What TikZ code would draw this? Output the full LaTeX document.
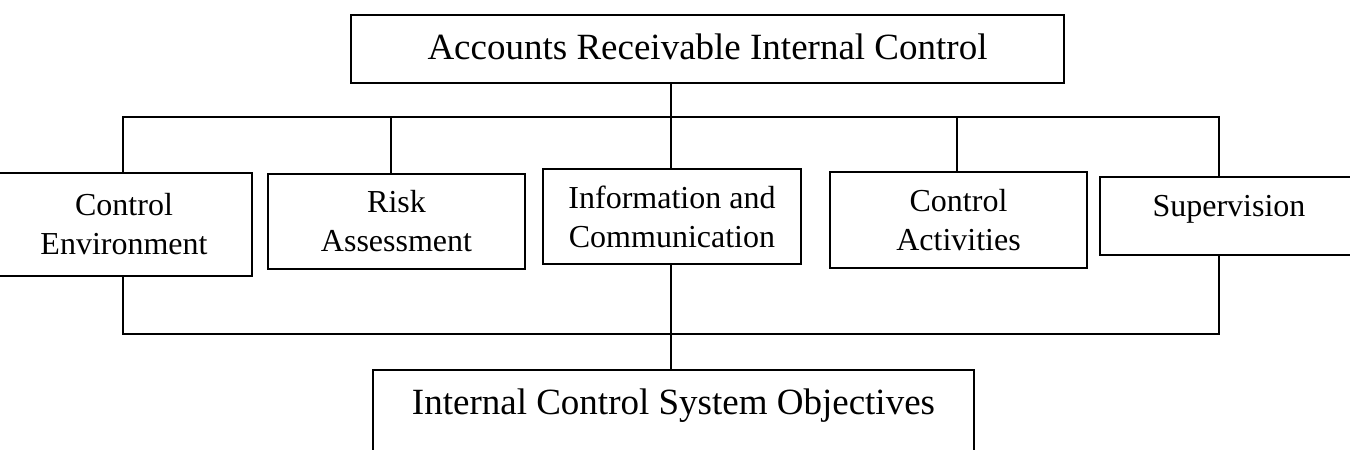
\documentclass[tikz,border=0pt]{standalone}
\usepackage{fontspec}
\setmainfont{Liberation Serif}
\begin{document}
\begin{tikzpicture}[x=1pt,y=-1pt,
  box/.style={draw, line width=1.8pt, inner sep=0pt, align=center},
  midbox/.style={box, font=\fontsize{32}{39}\selectfont},
  bigbox/.style={box, font=\fontsize{37}{44}\selectfont, anchor=north},
  link/.style={line width=1.4pt}]
\useasboundingbox (0,0) rectangle (1350,450);
\clip (0,0) rectangle (1350,450);

% top of the hierarchy
\node[bigbox, minimum width=713pt, text height=45pt, text depth=23pt]
  (top) at (707.5,14) {Accounts Receivable Internal Control};

% the five components
\node[midbox, minimum width=256pt, minimum height=103pt] (ce) at (124,224.5) {Control\\Environment};
\node[midbox, minimum width=257pt, minimum height=95pt] (ra) at (396.5,221.5) {Risk\\Assessment};
\node[midbox, minimum width=258pt, minimum height=95pt] (ic) at (672,216.5) {Information and\\Communication};
\node[midbox, minimum width=257pt, minimum height=96pt] (ca) at (958.5,220) {Control\\Activities};
\node[midbox, anchor=north, minimum width=258pt, text height=40pt, text depth=38pt]
  (sup) at (1229,176) {Supervision};

% objectives
\node[bigbox, minimum width=601pt, text height=45pt, text depth=56pt]
  (goal) at (673.5,369) {Internal Control System Objectives};

% upper bus
\coordinate (busL) at (123,117);
\coordinate (busR) at (1219,117);
\coordinate (trunk) at (671,117);
\coordinate (dRA) at (391,117);
\coordinate (dCA) at (957,117);
\draw[link] (top.south -| trunk) -- (trunk);
\draw[link] (busL |- ce.north) -- (busL) -- (busR) -- (busR |- sup.north);
\draw[link] (dRA) -- (dRA |- ra.north);
\draw[link] (trunk) -- (trunk |- ic.north);
\draw[link] (dCA) -- (dCA |- ca.north);

% lower bus
\coordinate (lowL) at (123,334);
\coordinate (lowR) at (1219,334);
\draw[link] (lowL |- ce.south) -- (lowL) -- (lowR) -- (lowR |- sup.south);
\draw[link] (ic.south -| trunk) -- (goal.north -| trunk);
\end{tikzpicture}
\end{document}
